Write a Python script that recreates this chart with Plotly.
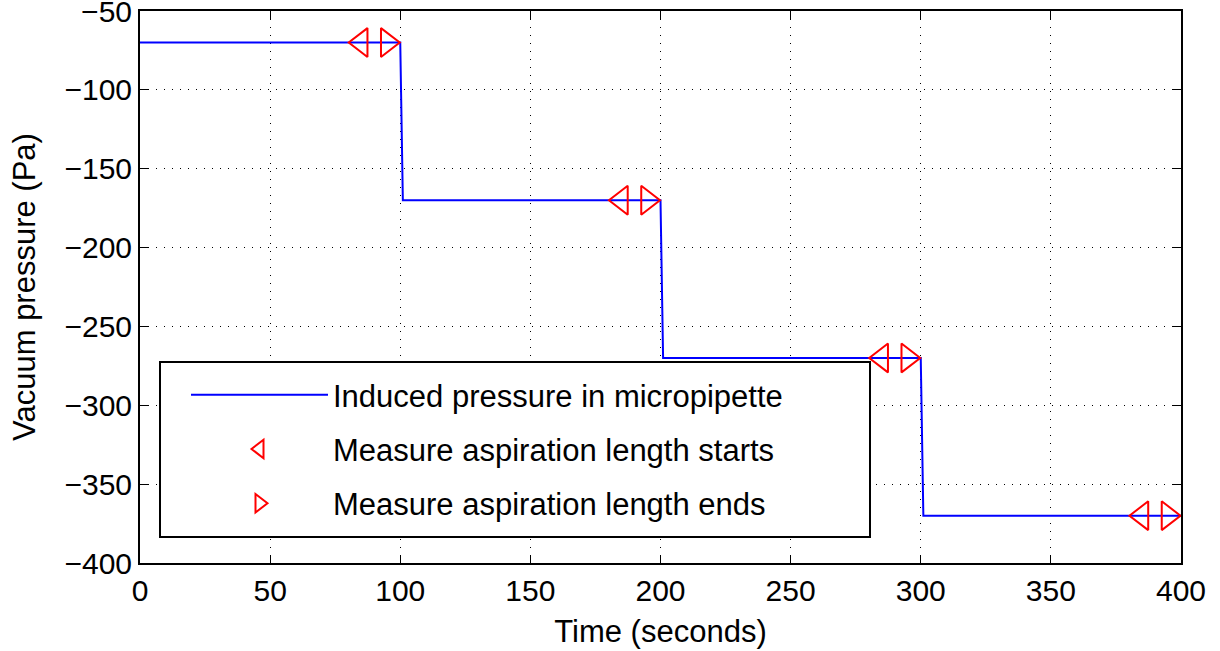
import plotly.graph_objects as go

# Data
time_s = [0, 100, 101, 200, 201, 300, 301, 400]
pressure_pa = [-70, -70, -170, -170, -270, -270, -370, -370]
start_t = [85, 185, 285, 385]
end_t = [95, 195, 295, 395]
marker_p = [-70, -170, -270, -370]
x_ticks = [0, 50, 100, 150, 200, 250, 300, 350, 400]
y_ticks = [-400, -350, -300, -250, -200, -150, -100, -50]

FONT = "Liberation Sans, Arial, sans-serif"

fig = go.Figure()
fig.add_trace(go.Scatter(
    x=time_s, y=pressure_pa, mode="lines",
    line=dict(color="#0000ff", width=2),
    name="Induced pressure in micropipette", legendgroup="a",
    cliponaxis=False,
))
fig.add_trace(go.Scatter(
    x=start_t, y=marker_p, mode="markers",
    marker=dict(symbol="triangle-left-open", size=25, color="#ff0000",
                line=dict(width=2, color="#ff0000")),
    name="Measure aspiration length starts", legendgroup="b",
    cliponaxis=False,
))
fig.add_trace(go.Scatter(
    x=end_t, y=marker_p, mode="markers",
    marker=dict(symbol="triangle-right-open", size=25, color="#ff0000",
                line=dict(width=2, color="#ff0000")),
    name="Measure aspiration length ends", legendgroup="c",
    cliponaxis=False,
))

L, R, T, B = 140, 39, 11, 88
W, H = 1220, 651
pw, ph = W - L - R, H - T - B

def px2paper_x(px):
    return (px - L) / pw

def px2paper_y(py):
    return (H - B - py) / ph

axis_common = dict(
    showline=True, linecolor="black", linewidth=2, mirror="ticks",
    ticks="inside", ticklen=8, tickwidth=1, tickcolor="black",
    showgrid=True, gridcolor="black", gridwidth=1, griddash="1px,7px",
    zeroline=False, ticklabeloverflow="allow", automargin=False,
    tickfont=dict(family=FONT, size=30, color="black"),
)

fig.update_layout(
    width=W, height=H,
    margin=dict(l=L, r=R, t=T, b=B, autoexpand=False),
    paper_bgcolor="white", plot_bgcolor="white",
    font=dict(family=FONT, size=30, color="black"),
    xaxis=dict(range=[0, 400], tickvals=x_ticks, **axis_common,
               title=dict(text="Time (seconds)", font=dict(family=FONT, size=31), standoff=14)),
    yaxis=dict(range=[-400, -50], tickvals=y_ticks, **axis_common,
               title=dict(text="Vacuum pressure (Pa)", font=dict(family=FONT, size=31), standoff=20)),
    legend=dict(
        x=px2paper_x(186), y=px2paper_y(368), xanchor="left", yanchor="top",
        bgcolor="rgba(0,0,0,0)", borderwidth=0,
        font=dict(family=FONT, size=31, color="black"),
        traceorder="grouped", tracegroupgap=11, itemwidth=137,
    ),
    shapes=[dict(
        type="rect", xref="paper", yref="paper", layer="above",
        x0=px2paper_x(160), x1=px2paper_x(870),
        y0=px2paper_y(537), y1=px2paper_y(362),
        fillcolor="white", line=dict(color="black", width=2),
    )],
)

fig.write_html("out.html")
